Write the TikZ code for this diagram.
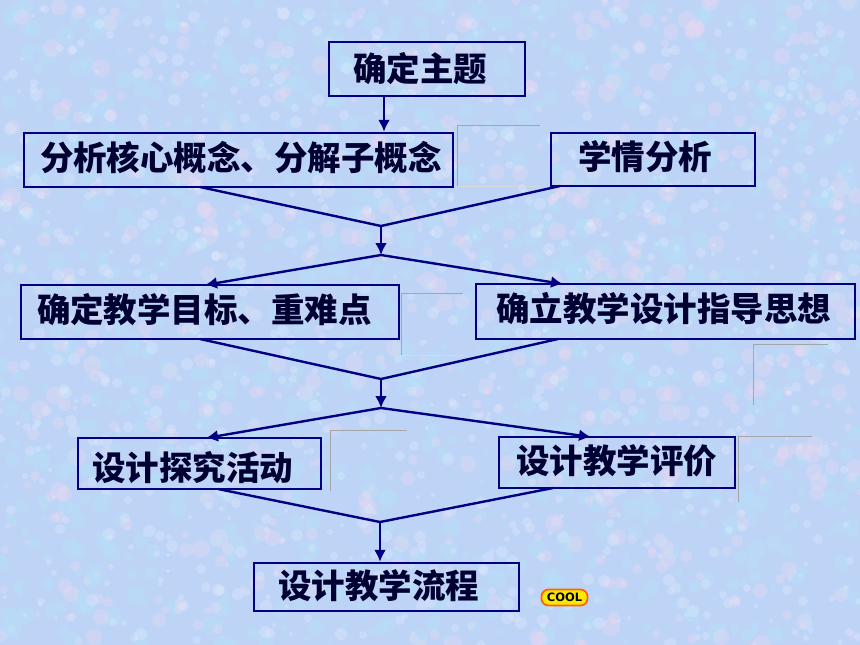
\documentclass[tikz,border=0pt]{standalone}
\usepackage{fontspec}
\newfontfamily\cjk{Noto Sans CJK SC}
\newfontfamily\coolfont{DejaVu Sans}
\usetikzlibrary{arrows.meta}
\definecolor{navy}{RGB}{0,0,128}
\definecolor{fondo}{RGB}{190,212,247}
\newcommand{\boxtext}[3]{\hspace*{#1pt}\raisebox{#2pt}[\height][\depth]{#3}}
\tikzset{
    flowbox/.style={draw=navy, line width=2.4pt, inner xsep=0pt, inner ysep=0pt, align=left, text=black!60!navy, font=\cjk\bfseries\fontsize{33.5}{36}\selectfont},
    link/.style={draw=navy, line width=2.4pt},
    linkarrow/.style={link, -{Latex[length=12pt,width=12pt]}},
    ghost/.style={draw=black!35, line width=0.6pt},
    ghostfaint/.style={draw=black!15, line width=0.5pt},
    badge/.style={draw=orange!80!red, fill=yellow!90!orange, line width=1.8pt, rounded corners=7pt, inner xsep=0pt, inner ysep=0pt, minimum width=46pt, minimum height=16pt, text=black, font=\coolfont\bfseries\fontsize{11.5}{12}\selectfont}
}
\begin{document}
\begin{tikzpicture}[x=1pt, y=-1pt]
    \useasboundingbox (0,0) rectangle (860,645);

    % Fondo
    \fill[fondo] (0,0) rectangle (860,645);
    \begin{scope}
        \clip (0,0) rectangle (860,645);
        \pgfmathsetseed{7}
        \foreach \i in {1,...,1100}{
            \pgfmathsetmacro{\px}{random(0,860)}
            \pgfmathsetmacro{\py}{random(0,645)}
            \pgfmathsetmacro{\pr}{random(3,9)}
            \fill[cyan!30, opacity=0.28] (\px,\py) circle (\pr);
        }
        \foreach \i in {1,...,600}{
            \pgfmathsetmacro{\px}{random(0,860)}
            \pgfmathsetmacro{\py}{random(0,645)}
            \pgfmathsetmacro{\pr}{random(3,9)}
            \fill[magenta!15, opacity=0.25] (\px,\py) circle (\pr);
        }
        \foreach \i in {1,...,900}{
            \pgfmathsetmacro{\px}{random(0,860)}
            \pgfmathsetmacro{\py}{random(0,645)}
            \pgfmathsetmacro{\pr}{random(2,6)}
            \fill[white, opacity=0.18] (\px,\py) circle (\pr);
        }
    \end{scope}

    % Restos grises
    \draw[ghost] (457,186) -- (457,125) -- (540,125);
    \draw[ghostfaint] (457,186) -- (540,186);
    \draw[ghost] (401,355) -- (401,293) -- (463,293);
    \draw[ghostfaint] (401,355) -- (463,355);
    \draw[ghost] (753,405) -- (753,344) -- (828,344);
    \draw[ghost] (330,491) -- (330,430) -- (407,430);
    \draw[ghost] (738,502) -- (738,436) -- (812,436);

    % Cajas
    \node[flowbox, text width=196pt, minimum height=54pt] (tema) at (427,69) {\boxtext{24}{0}{确定主题}};
    \node[flowbox, text width=429pt, minimum height=54pt] (nucleo) at (238.5,160) {\boxtext{16}{2}{分析核心概念、分解子概念}};
    \node[flowbox, text width=204pt, minimum height=53pt] (alumnos) at (653,159.5) {\boxtext{27}{3}{学情分析}};
    \node[flowbox, text width=378pt, minimum height=54pt] (objetivo) at (210,312) {\boxtext{16}{2}{确定教学目标、重难点}};
    \node[flowbox, text width=379pt, minimum height=55pt] (guia) at (665.5,311.5) {\boxtext{20}{3}{确立教学设计指导思想}};
    \node[flowbox, text width=243pt, minimum height=51pt] (actividad) at (199.5,463.5) {\boxtext{14}{-4}{设计探究活动}};
    \node[flowbox, text width=236pt, minimum height=51pt] (evaluacion) at (617,462.5) {\boxtext{17}{2}{设计教学评价}};
    \node[flowbox, text width=265pt, minimum height=48pt] (proceso) at (386.5,587) {\boxtext{24}{1}{设计教学流程}};

    % Puntos de union
    \coordinate (nucleoout) at (200,187);
    \coordinate (alumnosout) at (560,186);
    \coordinate (unionA) at (381,226);
    \coordinate (ramaA) at (381,255);
    \coordinate (objetivoin) at (205,285);
    \coordinate (guiain) at (563,284);
    \coordinate (objetivoout) at (200,339);
    \coordinate (guiaout) at (558,339);
    \coordinate (unionB) at (381,379);
    \coordinate (ramaB) at (381,408);
    \coordinate (actividadin) at (206,438);
    \coordinate (evaluacionin) at (591,437);
    \coordinate (actividadout) at (218,489);
    \coordinate (evaluacionout) at (553,488);
    \coordinate (unionC) at (380,522);

    % Flechas
    \draw[linkarrow] (tema.south -| 384,0) -- (nucleo.north -| 384,0);
    \draw[link] (nucleoout) -- (unionA) -- (alumnosout);
    \draw[linkarrow] (unionA) -- (ramaA);
    \draw[linkarrow] (ramaA) -- (objetivoin);
    \draw[linkarrow] (ramaA) -- (guiain);
    \draw[link] (objetivoout) -- (unionB) -- (guiaout);
    \draw[linkarrow] (unionB) -- (ramaB);
    \draw[linkarrow] (ramaB) -- (actividadin);
    \draw[linkarrow] (ramaB) -- (evaluacionin);
    \draw[link] (actividadout) -- (unionC) -- (evaluacionout);
    \draw[linkarrow] (unionC) -- (proceso.north -| unionC);

    % Insignia
    \node[badge] (cool) at (564.5,597.5) {COOL};
\end{tikzpicture}
\end{document}
